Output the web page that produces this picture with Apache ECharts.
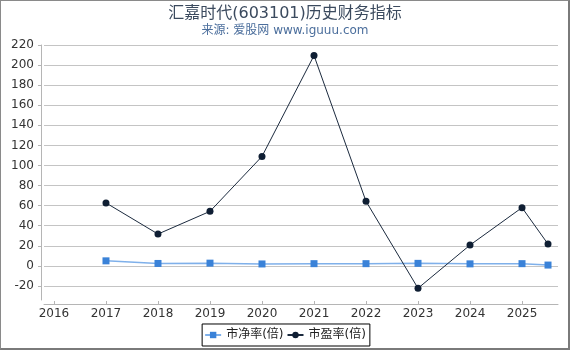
<!DOCTYPE html>
<html>
<head>
<meta charset="utf-8">
<script src="https://cdn.jsdelivr.net/npm/echarts@6/dist/echarts.min.js"></script>
<style>
html,body{margin:0;padding:0;background:#fff;}
#wrap{position:relative;width:570px;height:350px;}
#chart{position:absolute;left:0;top:0;width:570px;height:350px;}
#frame{position:absolute;left:0;top:0;width:570px;height:350px;box-sizing:border-box;border-left:1px solid #8a8a8a;border-top:1px solid #8a8a8a;border-right:2px solid #7a7a7a;border-bottom:2px solid #7a7a7a;pointer-events:none;}
</style>
</head>
<body>
<div id="wrap"><div id="chart"></div><div id="frame"></div></div>
<script>
const titleText = '汇嘉时代(603101)历史财务指标';
const subtitleText = '来源: 爱股网 www.iguuu.com';
const seriesNames = ['市净率(倍)', '市盈率(倍)'];
const xPositions = [2017, 2018, 2019, 2020, 2021, 2022, 2023, 2024, 2025, 2025.5];
const pbValues = [5.0, 2.4, 2.7, 1.9, 2.2, 2.2, 2.5, 2.0, 2.2, 0.8];
const peValues = [62.7, 31.7, 54.3, 109, 209.5, 64.3, -22.3, 20.7, 58, 21.7];
const xTickYears = [2016, 2017, 2018, 2019, 2020, 2021, 2022, 2023, 2024, 2025];

const chart = echarts.init(document.getElementById('chart'), null, {renderer: 'canvas'});
const font = 'DejaVu Sans, Noto Sans CJK SC, sans-serif';
function pairs(vals){ return xPositions.map((x,i)=>[x, vals[i]]); }
chart.setOption({
  animation: false,
  backgroundColor: '#ffffff',
  title: [{
    text: titleText, left: 'center', top: 1,
    textStyle: {fontSize: 16, fontWeight: 'normal', color: '#3b4a5e', fontFamily: font}
  },{
    text: subtitleText, left: 'center', top: 20,
    textStyle: {fontSize: 12, fontWeight: 'normal', color: '#4b6e9c', fontFamily: font}
  }],
  legend: {
    bottom: 4, left: 'center',
    data: seriesNames,
    borderColor: '#000', borderWidth: 1, borderRadius: 0,
    padding: [5, 4, 5, 2],
    itemWidth: 16, itemHeight: 8, itemGap: 3,
    textStyle: {fontSize: 12, color: '#222', fontFamily: font}
  },
  grid: {left: 44, right: 12, top: 45, bottom: 50, containLabel: false},
  xAxis: {
    type: 'value', min: 2015.808, max: 2025.692,
    offset: 4,
    axisLine: {show: true, onZero: false, lineStyle: {color: '#b5b5b5', width: 1}},
    axisTick: {show: true, inside: true, length: 3, customValues: xTickYears, lineStyle: {color: '#b5b5b5'}},
    axisLabel: {customValues: xTickYears, margin: 4, fontSize: 12, color: '#333', fontFamily: font,
      formatter: v => String(v)},
    splitLine: {show: false}
  },
  yAxis: {
    type: 'value', min: -34, max: 220, splitNumber: 12,
    offset: 3,
    axisLine: {show: true, onZero: false, lineStyle: {color: '#b5b5b5', width: 1}},
    axisTick: {show: true, inside: false, length: 3, lineStyle: {color: '#b5b5b5'}},
    axisLabel: {margin: 7, fontSize: 12, color: '#333', fontFamily: font, showMinLabel: false,
      formatter: v => (Math.round(v) % 20 === 0 ? String(v) : '')},
    splitLine: {show: true, showMinLine: false, lineStyle: {color: '#c4c4c4', width: 1}}
  },
  series: [{
    name: seriesNames[0], type: 'line', data: pairs(pbValues),
    symbol: 'rect', symbolSize: 7, showAllSymbol: true,
    lineStyle: {color: '#7fb0ea', width: 1.5},
    itemStyle: {color: '#3a82d8'},
    z: 3
  },{
    name: seriesNames[1], type: 'line', data: pairs(peValues),
    symbol: 'circle', symbolSize: 7, showAllSymbol: true,
    lineStyle: {color: '#1b2a3e', width: 1},
    itemStyle: {color: '#0f1e33'},
    z: 4
  }]
});
</script>
</body>
</html>
